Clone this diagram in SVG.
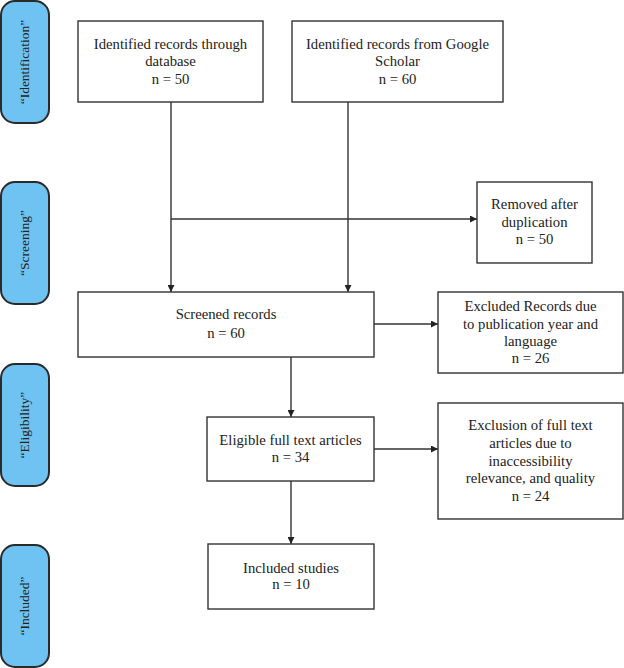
<svg xmlns="http://www.w3.org/2000/svg" width="624" height="668" viewBox="0 0 624 668">
<style>
.bg{fill:#ffffff}
.phase rect{fill:#6EC3F3;stroke:#2a2a2a;stroke-width:2}
.phase text{font-family:"Liberation Serif","Times New Roman",serif;font-size:13.5px;fill:#222;text-anchor:middle}
.node rect{fill:#ffffff;stroke:#333;stroke-width:1.4}
.node text{font-family:"Liberation Serif","Times New Roman",serif;font-size:14.7px;fill:#222;text-anchor:middle}
.conn path{fill:none;stroke:#333;stroke-width:1.4}
</style>
<defs>
<marker id="arr" viewBox="0 0 10 10" refX="10" refY="5" markerWidth="7" markerHeight="7" markerUnits="userSpaceOnUse" orient="auto">
<path d="M0,0 L10,5 L0,10 z" fill="#222"/>
</marker>
</defs>
<rect class="bg" x="0" y="0" width="624" height="668"/>

<g id="phase-identification" class="phase">
<rect x="1" y="1" width="48" height="122" rx="14"/>
<text transform="translate(29,62) rotate(-90)">“Identification”</text>
</g>
<g id="phase-screening" class="phase">
<rect x="1" y="182" width="48" height="122" rx="14"/>
<text transform="translate(29,243) rotate(-90)">“Screening”</text>
</g>
<g id="phase-eligibility" class="phase">
<rect x="1" y="364" width="48" height="122" rx="14"/>
<text transform="translate(29,425) rotate(-90)">“Eligibility”</text>
</g>
<g id="phase-included" class="phase">
<rect x="1" y="545" width="48" height="122" rx="14"/>
<text transform="translate(29,606) rotate(-90)">“Included”</text>
</g>

<g id="connectors" class="conn">
<path d="M171,102 V292" marker-end="url(#arr)"/>
<path d="M348,102 V292" marker-end="url(#arr)"/>
<path d="M171,219 H477" marker-end="url(#arr)"/>
<path d="M374,324 H438" marker-end="url(#arr)"/>
<path d="M291,357 V417" marker-end="url(#arr)"/>
<path d="M374,449 H438" marker-end="url(#arr)"/>
<path d="M291,481 V544" marker-end="url(#arr)"/>
</g>

<g id="node-database" class="node">
<rect x="78" y="21" width="185" height="81"/>
<text x="170.5" y="49">Identified records through</text>
<text x="170.5" y="66">database</text>
<text x="170.5" y="84">n = 50</text>
</g>
<g id="node-scholar" class="node">
<rect x="292" y="21" width="211" height="81"/>
<text x="397.5" y="49">Identified records from Google</text>
<text x="397.5" y="66">Scholar</text>
<text x="397.5" y="84">n = 60</text>
</g>
<g id="node-removed" class="node">
<rect x="477" y="182" width="115" height="81"/>
<text x="534.5" y="209">Removed after</text>
<text x="534.5" y="227">duplication</text>
<text x="534.5" y="244">n = 50</text>
</g>
<g id="node-screened" class="node">
<rect x="78" y="292" width="296" height="65"/>
<text x="226" y="319">Screened records</text>
<text x="226" y="338">n = 60</text>
</g>
<g id="node-excluded" class="node">
<rect x="438" y="292" width="185" height="81"/>
<text x="530.5" y="311">Excluded Records due</text>
<text x="530.5" y="329">to publication year and</text>
<text x="530.5" y="346">language</text>
<text x="530.5" y="363">n = 26</text>
</g>
<g id="node-eligible" class="node">
<rect x="207" y="417" width="167" height="64"/>
<text x="290.5" y="445">Eligible full text articles</text>
<text x="290.5" y="462">n = 34</text>
</g>
<g id="node-exclusion" class="node">
<rect x="438" y="403" width="185" height="116"/>
<text x="530.5" y="430">Exclusion of full text</text>
<text x="530.5" y="448">articles due to</text>
<text x="530.5" y="466">inaccessibility</text>
<text x="530.5" y="483">relevance, and quality</text>
<text x="530.5" y="501">n = 24</text>
</g>
<g id="node-included" class="node">
<rect x="208" y="544" width="166" height="65"/>
<text x="291" y="573">Included studies</text>
<text x="291" y="589">n = 10</text>
</g>
</svg>
